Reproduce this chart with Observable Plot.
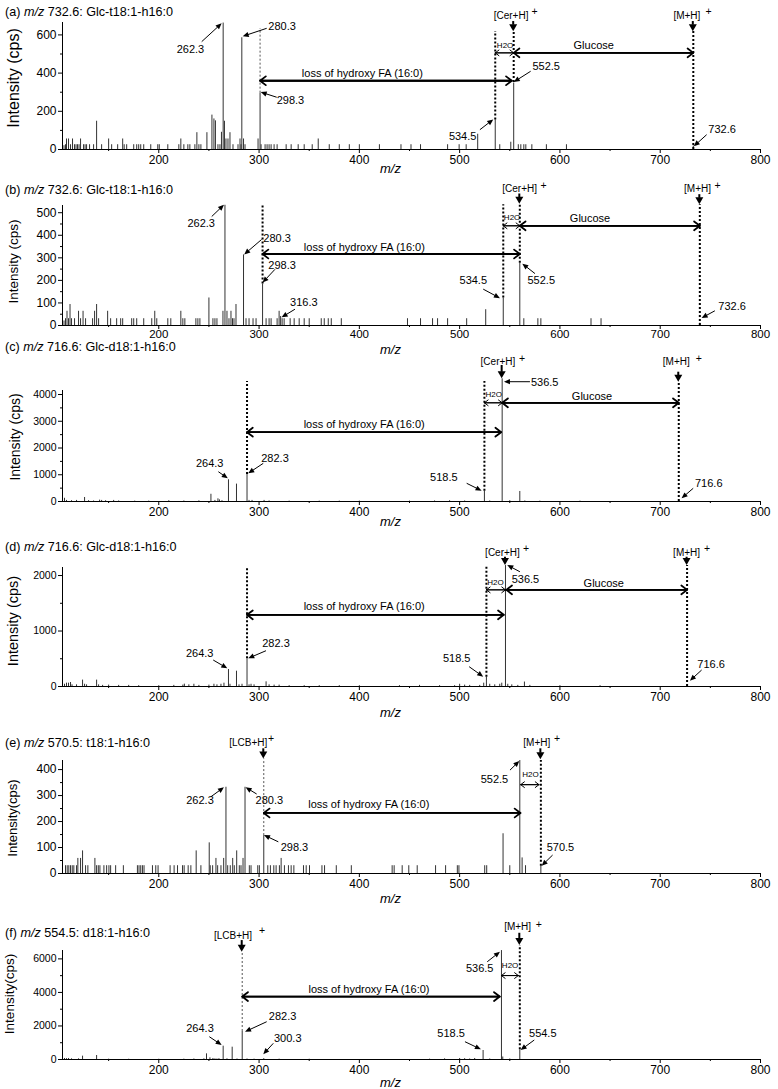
<!DOCTYPE html>
<html><head><meta charset="utf-8">
<script src="https://cdn.jsdelivr.net/npm/d3@7"></script>
<script src="https://cdn.jsdelivr.net/npm/@observablehq/plot@0.6"></script>
<style>
html,body{margin:0;padding:0;background:#fff;}
#fig{position:relative;width:778px;height:1089px;overflow:hidden;font-family:"Liberation Sans",Arial,Helvetica,sans-serif;color:#000;}
.panel{position:absolute;left:0;}
.title{position:absolute;left:5px;font-size:12.6px;line-height:12px;white-space:nowrap;}
</style></head>
<body><div id="fig"></div>
<script>
// ---------------- DATA ----------------
const panelKeys = ["a","b","c","d","e","f"];
const panelLetters = ["(a)","(b)","(c)","(d)","(e)","(f)"];
const precursors = ["732.6","732.6","716.6","716.6","570.5","554.5"];
const species = ["Glc-t18:1-h16:0","Glc-t18:1-h16:0","Glc-d18:1-h16:0","Glc-d18:1-h16:0","t18:1-h16:0","d18:1-h16:0"];
const yLabels = ["Intensity (cps)","Intensity (cps)","Intensity (cps)","Intensity (cps)","Intensity(cps)","Intensity(cps)"];
const xLabel = "m/z";
const xMajor = [200,300,400,500,600,700,800];
const xMinor = [150,250,350,450,550,650,750];
const xExtent = [104,800];
const yMax = [665,532,4150,2145,435,6500];
const yTicks = [[0,200,400,600],[0,100,200,300,400,500],[0,1000,2000,3000,4000],[0,1000,2000],[0,100,200,300,400],[0,2000,4000,6000]];
const yMinor = [[100,300,500],[50,150,250,350,450],[500,1500,2500,3500],[500,1500],[50,150,250,350],[1000,3000,5000]];

// peaks: [m/z, intensity]
const peaksA = [[104,25],[105.5,20],[107,25],[108,55],[110,55],[112,25],[114,55],[116,25],[117.5,25],[119,25],[120.5,25],[122,55],[125,25],[126.5,25],[128,25],[131,25],[135,25],[138,148],[143,25],[150,55],[153,25],[159,25],[164,55],[165.5,25],[168,25],[175,25],[178,25],[180,25],[182,25],[185,25],[192,25],[199,25],[200.5,25],[209,25],[220,25],[222,55],[225,25],[229,25],[231,25],[236,25],[238,88],[240,25],[242,25],[248,88],[253,180],[255,160],[256.5,150],[259,25],[261,25],[262.5,90],[264.2,662],[265.5,148],[267,55],[269,55],[271,88],[274,25],[279,25],[281,55],[282,25],[282.8,585],[284.5,55],[286,25],[299,55],[301,295],[302,25],[306,25],[308,25],[310,25],[312,25],[315,25],[318,25],[327,25],[332,25],[339,25],[345,25],[353,25],[359,55],[370,25],[380,25],[390,25],[400,25],[420,25],[441.5,25],[451.5,25],[461,25],[488,25],[499.5,25],[506.5,25],[518,80],[535.5,155],[540,25],[551,38],[553.9,348],[558.5,25],[561,25],[564,25],[566,25],[572,25],[586.5,25],[606.5,25],[733,18]];
const peaksB = [[104,30],[105.5,20],[107,30],[108.5,63],[110,30],[111.5,93],[113,30],[116,30],[120,63],[122,30],[124.5,63],[127,30],[134,30],[136,63],[138,93],[140,30],[149,63],[152,30],[158,30],[162,30],[164,30],[173,30],[175,30],[178,30],[185,30],[193,30],[196,63],[198,30],[209,30],[212,30],[222,63],[224,30],[226,30],[237,30],[239,30],[241,30],[250,122],[254,30],[256,30],[258,30],[264,63],[266,533],[268,63],[270,30],[272,63],[273.5,30],[275,30],[277,93],[284.5,313],[287,30],[290,30],[294,30],[297,30],[303.5,184],[307,30],[310,30],[312,30],[318,30],[320,63],[321.5,40],[323,30],[325,30],[331,30],[335,30],[340,30],[345,30],[350,30],[362,30],[365,30],[369,30],[372,30],[382,30],[448,30],[461,30],[473,30],[478,30],[488,30],[507,30],[526,70],[543.5,122],[560,276],[564,30],[578,30],[581,30],[631,30],[641,30],[739.5,10]];
const peaksC = [[106,120],[108,40],[113,30],[118,40],[126,150],[130,30],[135,20],[141,50],[143,40],[147,30],[155,40],[160,20],[176,15],[190,15],[210,30],[225,20],[240,25],[252,270],[256,40],[259,100],[260.5,60],[263,30],[269.5,812],[277.5,650],[288,1009],[290,40],[293,40],[305,40],[310,20],[330,15],[360,15],[380,15],[400,15],[450,15],[475,20],[490,30],[505,20],[524.7,385],[530,20],[542.4,4587],[550,30],[560,375],[565,20],[580,15],[620,15],[718.5,40]];
const peaksD = [[104,30],[106,40],[108,60],[110,60],[112,72],[113.5,30],[118,30],[124,115],[126,40],[128,30],[138,115],[140,30],[144,20],[150,25],[160,20],[170,20],[180,15],[200,15],[215,20],[224,25],[225.5,42],[230,30],[235,40],[240,20],[250,25],[255,40],[258,30],[262,40],[265,60],[269.5,306],[271,40],[277.5,276],[280,30],[283,40],[288,499],[290,30],[292,40],[295,30],[307,84],[310,30],[315,25],[320,25],[330,15],[345,15],[360,15],[380,15],[400,15],[440,15],[460,20],[480,15],[495,15],[500,40],[505,25],[510,20],[520,20],[524,60],[526.7,168],[530,40],[535,30],[540,40],[542,60],[545.7,2180],[548,40],[552,30],[558,20],[564.6,80],[570,20],[600,15],[640,15],[726.8,20]];
const peaksE = [[107,30],[108.7,30],[110.3,30],[112,30],[113.7,30],[115.3,30],[118,30],[119.3,58],[122,58],[124,87],[127,30],[129.3,30],[136.3,58],[138,30],[139.7,30],[141.3,30],[145.3,30],[148,30],[150.3,30],[152,30],[157,30],[164.7,30],[178.7,30],[180.3,30],[182,30],[183.7,30],[185.3,30],[193.7,30],[197,30],[199.3,30],[211.3,30],[215.3,30],[218.7,30],[223.7,30],[225.3,30],[229.3,30],[232,30],[237.3,87],[242,30],[250.3,118],[251.3,30],[253.7,30],[257,58],[258.7,30],[262,30],[264.7,58],[267,332],[268.7,30],[271.3,30],[273.7,58],[275.3,30],[277.7,87],[280.3,30],[282,30],[284,58],[286,332],[290.3,30],[292,30],[298.7,30],[300.3,30],[304.7,146],[308.7,30],[311.3,30],[314.7,30],[317,30],[320.3,30],[322,58],[325.3,30],[329.3,30],[332,30],[334.7,30],[344.3,30],[347,30],[350.3,30],[362.7,30],[365.3,30],[377,30],[392,30],[432.7,30],[434.7,30],[442.7,30],[449.3,30],[457.7,30],[476,30],[486,30],[497.7,30],[499.3,30],[525,30],[527,30],[543.3,153],[550,30],[560,435],[562.3,60],[565.7,30],[581,28]];
const peaksF = [[106,60],[108,50],[110,60],[113,40],[120,40],[124,199],[138,238],[150,20],[170,15],[200,15],[225,20],[235,30],[245,40],[247.6,337],[251,100],[254,60],[256,40],[258,30],[260,50],[264.2,795],[268,40],[273.2,735],[278,30],[283.2,1669],[288,30],[295,20],[304.7,50],[320,20],[350,15],[470,20],[485,40],[500,60],[505,50],[510,30],[515,60],[523.4,536],[530,30],[541.7,6496],[543,150],[550,30],[560,576]];
const peaks = {a: peaksA, b: peaksB, c: peaksC, d: peaksD, e: peaksE, f: peaksF};

// dotted guide lines (m/z, from intensity y1 to y2)
const dots = [
  {p:"a",mz:301,y1:295,y2:633,kind:"thin"},{p:"a",mz:535.5,y1:155,y2:618,kind:"thick"},{p:"a",mz:553.9,y1:351,y2:618,kind:"thick"},{p:"a",mz:733,y1:0,y2:618,kind:"thick"},
  {p:"b",mz:303.5,y1:184,y2:532,kind:"thick"},{p:"b",mz:543.5,y1:122,y2:535,kind:"thick"},{p:"b",mz:560,y1:276,y2:535,kind:"thick"},{p:"b",mz:739.5,y1:0,y2:535,kind:"thick"},
  {p:"c",mz:288,y1:1009,y2:4486,kind:"thick"},{p:"c",mz:524.7,y1:385,y2:4486,kind:"thick"},{p:"c",mz:718.5,y1:0,y2:4460,kind:"thick"},
  {p:"d",mz:288,y1:499,y2:2150,kind:"thick"},{p:"d",mz:526.7,y1:168,y2:2150,kind:"thick"},{p:"d",mz:726.8,y1:0,y2:2180,kind:"thick"},
  {p:"e",mz:304.7,y1:146,y2:441,kind:"thin"},{p:"e",mz:581,y1:28,y2:435,kind:"thick"},
  {p:"f",mz:283.2,y1:1669,y2:6395,kind:"thin"},{p:"f",mz:560,y1:576,y2:6794,kind:"thick"}
];
// downward ion arrows
const downs = [
  {p:"a",mz:553.9,y1:670,y2:617},{p:"a",mz:733,y1:670,y2:617},
  {p:"b",mz:560,y1:583,y2:538},{p:"b",mz:739.5,y1:580,y2:535},
  {p:"c",mz:542.4,y1:5084,y2:4587},{p:"c",mz:718.5,y1:4834,y2:4460},
  {p:"d",mz:545.7,y1:2330,y2:2180},{p:"d",mz:726.8,y1:2330,y2:2180},
  {p:"e",mz:304.7,y1:480,y2:441},{p:"e",mz:581,y1:480,y2:438},
  {p:"f",mz:283.2,y1:7092,y2:6395},{p:"f",mz:560,y1:7527,y2:6794}
];
// double-headed horizontal arrows
const spans = [
  {p:"a",x1:301,x2:552,y:360,kind:"loss"},{p:"a",x1:535.5,x2:553.9,y:506,kind:"h2o"},{p:"a",x1:553.9,x2:733,y:506,kind:"glc"},
  {p:"b",x1:303.5,x2:560,y:317,kind:"loss"},{p:"b",x1:543.5,x2:560,y:442,kind:"h2o"},{p:"b",x1:560,x2:739.5,y:442,kind:"glc"},
  {p:"c",x1:288,x2:541.4,y:2591,kind:"loss"},{p:"c",x1:524.7,x2:542.4,y:3690,kind:"h2o"},{p:"c",x1:542.4,x2:718.5,y:3690,kind:"glc"},
  {p:"d",x1:288,x2:544,y:1292,kind:"loss"},{p:"d",x1:526.7,x2:545.7,y:1742,kind:"h2o"},{p:"d",x1:546.5,x2:726.8,y:1742,kind:"glc"},
  {p:"e",x1:304.7,x2:560.6,y:233,kind:"loss"},{p:"e",x1:560.9,x2:579.1,y:342,kind:"h2o"},
  {p:"f",x1:283.2,x2:540,y:3754,kind:"loss"},{p:"f",x1:541.7,x2:558.5,y:5006,kind:"h2o"}
];
const spanTexts = [
  {p:"a",mz:403,y:400,text:"loss of hydroxy FA (16:0)",kind:"loss"},{p:"a",mz:545.3,y:546,text:"H2O",kind:"h2o"},{p:"a",mz:633.7,y:546,text:"Glucose",kind:"glc"},
  {p:"b",mz:405,y:344,text:"loss of hydroxy FA (16:0)",kind:"loss"},{p:"b",mz:552.3,y:478,text:"H2O",kind:"h2o"},{p:"b",mz:630,y:474,text:"Glucose",kind:"glc"},
  {p:"c",mz:404.8,y:2878,text:"loss of hydroxy FA (16:0)",kind:"loss"},{p:"c",mz:534,y:3989,text:"H2O",kind:"h2o"},{p:"c",mz:632,y:3925,text:"Glucose",kind:"glc"},
  {p:"d",mz:404.8,y:1441,text:"loss of hydroxy FA (16:0)",kind:"loss"},{p:"d",mz:535.7,y:1879,text:"H2O",kind:"h2o"},{p:"d",mz:643.7,y:1861,text:"Glucose",kind:"glc"},
  {p:"e",mz:409.4,y:264,text:"loss of hydroxy FA (16:0)",kind:"loss"},{p:"e",mz:570.6,y:383,text:"H2O",kind:"h2o"},
  {p:"f",mz:409.6,y:4154,text:"loss of hydroxy FA (16:0)",kind:"loss"},{p:"f",mz:550.3,y:5602,text:"H2O",kind:"h2o"}
];
const ions = [
  {p:"a",mz:551.3,y:702,text:"[Cer+H]"},{p:"a",mz:726.6,y:702,text:"[M+H]"},
  {p:"b",mz:559.8,y:607,text:"[Cer+H]"},{p:"b",mz:737.2,y:607,text:"[M+H]"},
  {p:"c",mz:538.2,y:5207,text:"[Cer+H]"},{p:"c",mz:716,y:5207,text:"[M+H]"},
  {p:"d",mz:542.7,y:2415,text:"[Cer+H]"},{p:"d",mz:726.3,y:2415,text:"[M+H]"},
  {p:"e",mz:289.2,y:502,text:"[LCB+H]"},{p:"e",mz:576.9,y:502,text:"[M+H]"},
  {p:"f",mz:274,y:7390,text:"[LCB+H]"},{p:"f",mz:557.8,y:7884,text:"[M+H]"}
];
const pluses = [
  {p:"a",mz:574.6,y:721},{p:"a",mz:748.2,y:721},
  {p:"b",mz:583.8,y:621},{p:"b",mz:757.3,y:621},
  {p:"c",mz:562.3,y:5357},{p:"c",mz:738.4,y:5357},
  {p:"d",mz:566.3,y:2481},{p:"d",mz:746.7,y:2481},
  {p:"e",mz:312,y:519},{p:"e",mz:597.2,y:519},
  {p:"f",mz:303.1,y:7688},{p:"f",mz:578.9,y:8045}
];
// peak labels: text position (tx,ty) and pointer (x1,y1)->(x2,y2)
const peakLabels = [
  {p:"a",t:"262.3",tx:231.6,ty:522,x1:243.3,y1:562,x2:263.2,y2:658},
  {p:"a",t:"280.3",tx:323,ty:644,x1:308.1,y1:632,x2:284.2,y2:590},
  {p:"a",t:"298.3",tx:331.3,ty:256,x1:318.1,y1:271,x2:302.1,y2:298},
  {p:"a",t:"534.5",tx:503,ty:70,x1:520.7,y1:101,x2:534,y2:155},
  {p:"a",t:"552.5",tx:586.3,ty:433,x1:571.3,y1:407,x2:554.5,y2:351},
  {p:"a",t:"732.6",tx:761.7,ty:105,x1:746.8,y1:75,x2:734,y2:14},
  {p:"b",t:"262.3",tx:242.3,ty:454,x1:253.3,y1:481,x2:265.5,y2:533},
  {p:"b",t:"280.3",tx:318,ty:386,x1:303,y1:379,x2:285.7,y2:313},
  {p:"b",t:"298.3",tx:323,ty:268,x1:316.4,y1:247,x2:304,y2:188},
  {p:"b",t:"316.3",tx:344.6,ty:103,x1:336.3,y1:70,x2:323,y2:34},
  {p:"b",t:"534.5",tx:513.6,ty:198,x1:524,y1:159,x2:540.7,y2:119},
  {p:"b",t:"552.5",tx:581.4,ty:198,x1:575.6,y1:228,x2:563,y2:272},
  {p:"b",t:"732.6",tx:771.7,ty:85,x1:755,y1:63,x2:741.8,y2:31},
  {p:"c",t:"264.3",tx:250.8,ty:1409,x1:259.9,y1:1095,x2:269.3,y2:849},
  {p:"c",t:"282.3",tx:315.9,ty:1596,x1:304.7,y1:1409,x2:289.7,y2:1036},
  {p:"c",t:"536.5",tx:584.8,ty:4460,x1:570.6,y1:4460,x2:544.7,y2:4460},
  {p:"c",t:"518.5",tx:484.2,ty:909,x1:507.5,y1:662,x2:522.4,y2:385},
  {p:"c",t:"716.6",tx:748.4,ty:662,x1:733.4,y1:475,x2:721.8,y2:101},
  {p:"d",t:"264.3",tx:240.8,ty:589,x1:254.8,y1:468,x2:268.8,y2:319},
  {p:"d",t:"282.3",tx:316.9,ty:769,x1:307.4,y1:636,x2:289.7,y2:499},
  {p:"d",t:"536.5",tx:565.6,ty:1922,x1:560.6,y1:2059,x2:548,y2:2180},
  {p:"d",t:"518.5",tx:497.1,ty:499,x1:510,y1:348,x2:524,y2:168},
  {p:"d",t:"716.6",tx:750.7,ty:396,x1:741.8,y1:288,x2:730.1,y2:95},
  {p:"e",t:"262.3",tx:241.1,ty:281,x1:252.3,y1:293,x2:265.5,y2:330},
  {p:"e",t:"280.3",tx:310.2,ty:281,x1:298.1,y1:304,x2:287.1,y2:330},
  {p:"e",t:"298.3",tx:335.3,ty:101,x1:319.7,y1:120,x2:305.4,y2:146},
  {p:"e",t:"552.5",tx:534.7,ty:362,x1:550.7,y1:396,x2:560,y2:431},
  {p:"e",t:"570.5",tx:600.5,ty:101,x1:593.2,y1:69,x2:582.3,y2:28},
  {p:"f",t:"264.3",tx:241.1,ty:1830,x1:250.9,y1:1329,x2:263.2,y2:834},
  {p:"f",t:"282.3",tx:323.5,ty:2563,x1:308.1,y1:2223,x2:286.5,y2:1627},
  {p:"f",t:"300.3",tx:328.6,ty:1269,x1:314.7,y1:936,x2:304.7,y2:280},
  {p:"f",t:"518.5",tx:491.5,ty:1567,x1:505.8,y1:1031,x2:521.7,y2:578},
  {p:"f",t:"536.5",tx:520,ty:5405,x1:528,y1:5798,x2:540.7,y2:6394},
  {p:"f",t:"554.5",tx:582.9,ty:1532,x1:574.9,y1:1132,x2:561.3,y2:536}
];

// ---------------- LAYOUT ----------------
const layout = {
  a:{top:0,  height:175,mt:22,mb:26,lfs:16,  ldx:-49,  ldy:-8, mzDy:19,yfs:12,  xtp:2,xfs:12,  titleY:12},
  b:{top:175,height:175,mt:30,mb:25,lfs:13.5,ldx:-48.5,ldy:-4, mzDy:24,yfs:12,  xtp:0,xfs:11.5,titleY:190},
  c:{top:350,height:175,mt:40,mb:24,lfs:14,  ldx:-47,  ldy:-9, mzDy:20,yfs:10.5,xtp:2,xfs:12,  titleY:347},
  d:{top:525,height:190,mt:42,mb:29,lfs:14.5,ldx:-48.7,ldy:-6, mzDy:26,yfs:10.5,xtp:2,xfs:12,  titleY:547},
  e:{top:715,height:185,mt:45,mb:27,lfs:13,  ldx:-50,  ldy:1,  mzDy:25,yfs:12,  xtp:2,xfs:12,  titleY:743},
  f:{top:900,height:189,mt:50,mb:30,lfs:13.5,ldx:-52.5,ldy:-11,mzDy:23,yfs:10.5,xtp:2,xfs:12,  titleY:933}
};

const NS = "http://www.w3.org/2000/svg";
function filledArrows(list, {head = 6, half = 2.5, width = 1, color = "#000"} = {}) {
  return (index, scales) => {
    const g = document.createElementNS(NS, "g");
    for (const d of list) {
      const X1 = scales.x(d.x1), Y1 = scales.y(d.y1), X2 = scales.x(d.x2), Y2 = scales.y(d.y2);
      const dx = X2 - X1, dy = Y2 - Y1, L = Math.hypot(dx, dy) || 1;
      const ux = dx / L, uy = dy / L;
      const h = Math.min(head, L * 0.85);
      const bx = X2 - ux * h, by = Y2 - uy * h;
      const ln = document.createElementNS(NS, "line");
      ln.setAttribute("x1", X1); ln.setAttribute("y1", Y1);
      ln.setAttribute("x2", bx + ux * 0.5); ln.setAttribute("y2", by + uy * 0.5);
      ln.setAttribute("stroke", color); ln.setAttribute("stroke-width", width);
      const tri = document.createElementNS(NS, "polygon");
      tri.setAttribute("points", `${X2},${Y2} ${bx - uy * half},${by + ux * half} ${bx + uy * half},${by - ux * half}`);
      tri.setAttribute("fill", color);
      g.append(ln, tri);
    }
    return g;
  };
}

const fig = document.getElementById("fig");
panelKeys.forEach((key, i) => {
  const L = layout[key];
  const sel = arr => arr.filter(d => d.p === key);
  const sp = sel(spans), st = sel(spanTexts), dt = sel(dots);
  const marks = [
    Plot.ruleX(peaks[key], {x: d => d[0], y: d => d[1], stroke: "#333", strokeWidth: 1}),
    Plot.ruleY([0], {stroke: "#000", strokeWidth: 1}),
    Plot.ruleX([xExtent[0]], {stroke: "#000", strokeWidth: 1}),
    Plot.axisX({ticks: xMajor, tickSize: 4, tickPadding: L.xtp, fontSize: L.xfs, tickFormat: d => String(d), label: null}),
    Plot.axisX({ticks: xMinor, tickSize: 2, tickFormat: () => "", label: null}),
    Plot.axisY({ticks: yTicks[i], tickSize: 4, tickPadding: 2, fontSize: L.yfs, tickFormat: d => String(d), label: null}),
    Plot.axisY({ticks: yMinor[i], tickSize: 2, tickFormat: () => "", label: null}),
    Plot.ruleX(dt.filter(d => d.kind === "thick"), {x: "mz", y1: "y1", y2: "y2", stroke: "#000", strokeWidth: 2, strokeDasharray: "2,2"}),
    Plot.ruleX(dt.filter(d => d.kind === "thin"), {x: "mz", y1: "y1", y2: "y2", stroke: "#555", strokeWidth: 1, strokeDasharray: "2,2"}),
    Plot.arrow(sp.filter(d => d.kind !== "h2o"), {x1: "x1", x2: "x2", y1: "y", y2: "y", strokeWidth: 1.8, headLength: 6, headAngle: 75}),
    Plot.arrow(sp.filter(d => d.kind !== "h2o"), {x1: "x2", x2: "x1", y1: "y", y2: "y", strokeWidth: 1.8, headLength: 6, headAngle: 75}),
    Plot.arrow(sp.filter(d => d.kind === "h2o"), {x1: "x1", x2: "x2", y1: "y", y2: "y", strokeWidth: 1, headLength: 7, headAngle: 75}),
    Plot.arrow(sp.filter(d => d.kind === "h2o"), {x1: "x2", x2: "x1", y1: "y", y2: "y", strokeWidth: 1, headLength: 7, headAngle: 75}),
    Plot.text(st.filter(d => d.kind !== "h2o"), {x: "mz", y: "y", text: "text", fontSize: 11}),
    Plot.text(st.filter(d => d.kind === "h2o"), {x: "mz", y: "y", text: "text", fontSize: 8}),
    Plot.text(sel(ions), {x: "mz", y: "y", text: "text", fontSize: 10}),
    Plot.text(sel(pluses), {x: "mz", y: "y", text: () => "+", fontSize: 10.5}),
    Plot.text(sel(peakLabels), {x: "tx", y: "ty", text: "t", fontSize: 11}),
    filledArrows(sel(peakLabels), {head: 6, half: 2.6, width: 1}),
    filledArrows(sel(downs).map(d => ({x1: d.mz, x2: d.mz, y1: d.y1, y2: d.y2})), {head: 7, half: 4, width: 2}),
    Plot.text([yLabels[i]], {frameAnchor: "left", text: d => d, rotate: -90, dx: L.ldx, dy: L.ldy, fontSize: L.lfs, textAnchor: "middle", lineAnchor: "middle"}),
    Plot.text([xLabel], {frameAnchor: "bottom", text: d => d, dx: -21, dy: L.mzDy, fontSize: 13, fontStyle: "italic", textAnchor: "middle", lineAnchor: "middle"})
  ];
  const svg = Plot.plot({
    width: 778, height: L.height,
    marginLeft: 62, marginRight: 18, marginTop: L.mt, marginBottom: L.mb,
    x: {domain: xExtent},
    y: {domain: [0, yMax[i]]},
    style: {fontFamily: '"Liberation Sans", Arial, Helvetica, sans-serif', fontSize: "11px", color: "#000", background: "transparent", overflow: "visible"},
    marks
  });
  const div = document.createElement("div");
  div.className = "panel";
  div.style.top = L.top + "px";
  div.appendChild(svg);
  fig.appendChild(div);
  const t = document.createElement("div");
  t.className = "title";
  t.style.top = (L.titleY - 6) + "px";
  t.innerHTML = `${panelLetters[i]} <i>m/z</i> ${precursors[i]}: ${species[i]}`;
  fig.appendChild(t);
});
</script>
</body></html>
